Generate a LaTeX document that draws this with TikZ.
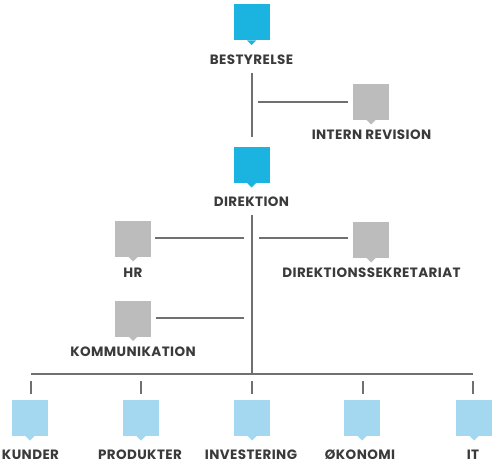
\documentclass[tikz,border=0pt]{standalone}
\usepackage{fontspec}
\setmainfont{Poppins}[LetterSpace=3]
\definecolor{topblue}{HTML}{1BB4E0}
\definecolor{lightblue}{HTML}{A3D8F0}
\definecolor{boxgray}{HTML}{BDBCBC}
\definecolor{linegray}{HTML}{707070}
\definecolor{txtgray}{HTML}{3A3A3A}
\begin{document}
\begin{tikzpicture}[x=1bp,y=-1bp,
  orgbox/.style={minimum width=36bp,minimum height=36bp,inner sep=0pt,outer sep=0pt,fill=#1},
  lbl/.style={inner sep=0pt,text=txtgray,font=\bfseries\fontsize{13.5bp}{15bp}\selectfont},
  conn/.style={draw=linegray,line width=1.3bp}]
\useasboundingbox (0,0) rectangle (500,466);
% boxes
\node[orgbox=topblue] (best) at (251.5,22.5) {};
\node[orgbox=boxgray] (intern) at (371,102) {};
\node[orgbox=topblue] (dir) at (251.5,165) {};
\node[orgbox=boxgray] (hr) at (133,239) {};
\node[orgbox=boxgray] (sek) at (371,240) {};
\node[orgbox=boxgray] (komm) at (133,318.5) {};
\node[orgbox=lightblue] (kunder) at (30,418) {};
\node[orgbox=lightblue] (prod) at (141,418) {};
\node[orgbox=lightblue] (inv) at (252,418) {};
\node[orgbox=lightblue] (oko) at (362,418) {};
\node[orgbox=lightblue] (it) at (474,418) {};
% pointers
\foreach \n/\c in {best/topblue,intern/boxgray,dir/topblue,hr/boxgray,sek/boxgray,komm/boxgray,kunder/lightblue,prod/lightblue,inv/lightblue,oko/lightblue,it/lightblue}
  \fill[\c] ([xshift=-4.5bp]\n.south) -- ([xshift=4.5bp]\n.south) -- ([yshift=-4.5bp]\n.south) -- cycle;
% labels
\node[lbl] (tbest) at (251.5,60) {BESTYRELSE};
\node[lbl] (tintern) at (371.5,135) {INTERN REVISION};
\node[lbl] (tdir) at (251.5,202) {DIREKTION};
\node[lbl] (thr) at (133,273) {HR};
\node[lbl] (tsek) at (371.5,273) {DIREKTIONSSEKRETARIAT};
\node[lbl] (tkomm) at (133,352) {KOMMUNIKATION};
\node[lbl] (tkunder) at (30.5,455) {KUNDER};
\node[lbl] (tprod) at (140,455) {PRODUKTER};
\node[lbl] (tinv) at (251,455) {INVESTERING};
\node[lbl] (toko) at (360,455) {ØKONOMI};
\node[lbl] (tit) at (473,455) {IT};
% connector points
\coordinate (v1a) at (252,73);
\coordinate (v1b) at (252,137);
\coordinate (h1a) at (258,102);
\coordinate (v2a) at (252,215);
\coordinate (bus) at (252,374);
\coordinate (hrEnd) at (244,238);
\coordinate (sekStart) at (259,238);
\coordinate (kommEnd) at (244,318);
\coordinate (busL) at (31,374);
\coordinate (busR) at (473,374);
\draw[conn] (v1a) -- (v1b);
\draw[conn] (h1a) -- ([xshift=-5bp]intern.west |- h1a);
\draw[conn] (v2a) -- (bus);
\draw[conn] ([xshift=4bp]hr.east |- hrEnd) -- (hrEnd);
\draw[conn] (sekStart) -- ([xshift=-5bp]sek.west |- sekStart);
\draw[conn] ([xshift=5bp]komm.east |- kommEnd) -- (kommEnd);
\draw[conn] (busL) -- (busR);
\foreach \n/\x in {kunder/31,prod/141,inv/252,oko/363,it/473}
  \draw[conn] (\x,381) -- (\x,394);
\end{tikzpicture}
\end{document}
